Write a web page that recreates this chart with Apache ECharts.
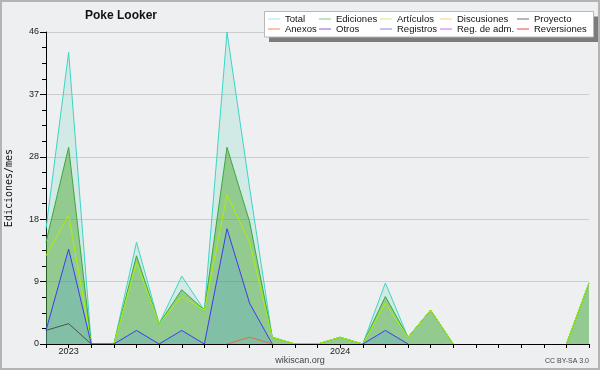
<!DOCTYPE html>
<html>
<head>
<meta charset="utf-8">
<script src="https://cdn.jsdelivr.net/npm/echarts@6/dist/echarts.min.js"></script>
<style>
html,body{margin:0;padding:0;background:#eeeff0;}
#chart{width:600px;height:370px;}
</style>
</head>
<body>
<div id="chart"></div>
<script>
// Months Dec 2022 .. Dec 2024
const months = ['2022-12','2023-01','2023-02','2023-03','2023-04','2023-05','2023-06','2023-07','2023-08','2023-09','2023-10','2023-11','2023-12',
                '2024-01','2024-02','2024-03','2024-04','2024-05','2024-06','2024-07','2024-08','2024-09','2024-10','2024-11','2024-12'];
const total       = [17,43,0,0,15,3,10,5,46,23,1,0,0,1,0,9,1,5,0,0,0,0,0,0,9];
const ediciones   = [15,29,0,0,13,3, 8,5,29,18,1,0,0,1,0,7,1,5,0,0,0,0,0,0,9];
const articulos   = [13,19,0,0,12,3, 7,5,22,15,1,0,0,1,0,6,1,5,0,0,0,0,0,0,9];
const discusiones = [ 0, 0,0,0, 0,0, 0,0, 0, 0,0,0,0,0,0,0,0,0,0,0,0,0,0,0,0];
const proyecto    = [ 2, 3,0,0, 0,0, 0,0, 0, 0,0,0,0,0,0,0,0,0,0,0,0,0,0,0,0];
const anexos      = [ 0, 0,0,0, 0,0, 0,0, 0, 1,0,0,0,0,0,0,0,0,0,0,0,0,0,0,0];
const otros       = [ 0, 0,0,0, 0,0, 0,0, 0, 0,0,0,0,0,0,0,0,0,0,0,0,0,0,0,0];
const registros   = [ 2,14,0,0, 2,0, 2,0,17, 6,0,0,0,0,0,2,0,0,0,0,0,0,0,0,0];
const regAdm      = [ 0, 0,0,0, 0,0, 0,0, 0, 0,0,0,0,0,0,0,0,0,0,0,0,0,0,0,0];
const reversiones = [ 0, 0,0,0, 0,0, 0,0, 0, 0,0,0,0,0,0,0,0,0,0,0,0,0,0,0,0];
const yMax = 46;
const yTickCount = 5;

// hide runs of zeros (drawn by the source under the axis anyway)
function show(arr){
  return arr.map((v,i)=>{
    const p = i>0?arr[i-1]:0, n = i<arr.length-1?arr[i+1]:0;
    return (v===0 && p===0 && n===0) ? null : v;
  });
}

const FONT = 'Liberation Sans, Arial, sans-serif';
const series = [
  {name:'Total', data:total, line:'#3ed4c6', legend:'#a6e6de', area:'rgba(70,210,180,0.16)', z:2},
  {name:'Ediciones', data:ediciones, line:'#3aa83a', legend:'#80c480', area:'rgba(70,165,40,0.45)', z:3},
  {name:'Artículos', data:articulos, line:'#aaf000', legend:'#c8ee80', z:4},
  {name:'Discusiones', data:discusiones, line:'#f0c040', legend:'#f8d47a', z:4},
  {name:'Proyecto', data:proyecto, line:'#505050', legend:'#6e6e6e', z:6},
  {name:'Anexos', data:anexos, line:'#e0703c', legend:'#f08a50', z:6},
  {name:'Otros', data:otros, line:'#8040e0', legend:'#8a52e2', z:4},
  {name:'Registros', data:registros, line:'#3c3cf0', legend:'#8484f2', area:'rgba(60,150,255,0.2)', z:5},
  {name:'Reg. de adm.', data:regAdm, line:'#d050e0', legend:'#d866e4', z:4},
  {name:'Reversiones', data:reversiones, line:'#e03030', legend:'#e44848', z:4}
];
const legendColor = {};
series.forEach(s=>legendColor[s.name]=s.legend);
const columns = [['Total','Anexos'],['Ediciones','Otros'],['Artículos','Registros'],['Discusiones','Reg. de adm.'],['Proyecto','Reversiones']];
const colLeft = [268,319,380,440,517];

const chart = echarts.init(document.getElementById('chart'));
chart.setOption({
  backgroundColor:'#eeeff0',
  animation:false,
  title:{text:'Poke Looker', left:85, top:10, padding:0,
    textStyle:{fontFamily:FONT, fontSize:12, fontWeight:'bold', color:'#111'}},
  grid:{left:46, right:11, top:32, bottom:26, containLabel:false, outerBoundsMode:'none'},
  legend: columns.map((names,k)=>({
    data:names.map(n=>({name:n, itemStyle:{color:legendColor[n]}})),
    orient:'vertical', left:colLeft[k], top:14, padding:0, itemGap:0,
    itemWidth:12, itemHeight:1, icon:'rect', selectedMode:false, z:10,
    textStyle:{fontFamily:FONT, fontSize:9.5, lineHeight:10, color:'#111'}
  })),
  xAxis:{type:'category', data:months, boundaryGap:false, z:10,
    axisLine:{lineStyle:{color:'#000', width:1}},
    axisTick:{interval:0, length:4, lineStyle:{color:'#000'}},
    axisLabel:{interval:0, margin:3, fontFamily:FONT, fontSize:9, color:'#222',
      formatter:v=>v.endsWith('-01')?v.slice(0,4):''},
    splitLine:{show:false}},
  yAxis:{type:'value', min:0, max:yMax, interval:yMax/yTickCount,
    name:'Ediciones/mes', nameLocation:'middle', nameGap:32,
    nameTextStyle:{fontFamily:'DejaVu Sans Mono, monospace', fontSize:10, color:'#111'},
    axisLine:{show:true, lineStyle:{color:'#000'}},
    axisTick:{show:true, length:6, lineStyle:{color:'#000'}},
    minorTick:{show:true, splitNumber:4, length:4, lineStyle:{color:'#000'}},
    axisLabel:{fontFamily:FONT, fontSize:9, color:'#222', margin:7,
      formatter:v=>String(Math.round(v))},
    splitLine:{lineStyle:{color:'#cccccc', width:1}}},
  graphic:[
    {type:'rect', z:1, silent:true, shape:{x:269, y:16.5, width:329, height:25.5}, style:{fill:'#7c7c7c'}},
    {type:'rect', z:2, silent:true, shape:{x:264.5, y:11.5, width:329, height:25.5}, style:{fill:'#ffffff', stroke:'#b8b8b8', lineWidth:1}},
    {type:'text', z:2, left:'center', top:356, style:{text:'wikiscan.org', font:'9px Liberation Sans, Arial, sans-serif', fill:'#444'}},
    {type:'text', z:2, right:11, top:358, style:{text:'CC BY-SA 3.0', font:'7px Liberation Sans, Arial, sans-serif', fill:'#444'}},
    {type:'rect', z:100, silent:true, shape:{x:1, y:1, width:598, height:368}, style:{fill:null, stroke:'#b4b4b4', lineWidth:2}}
  ],
  series: series.map(s=>({
    name:s.name, type:'line', data:show(s.data), symbol:'none', z:s.z,
    lineStyle:{color:s.line, width:1},
    itemStyle:{color:s.line},
    areaStyle: s.area ? {color:s.area, opacity:1} : undefined
  }))
});
</script>
</body>
</html>
